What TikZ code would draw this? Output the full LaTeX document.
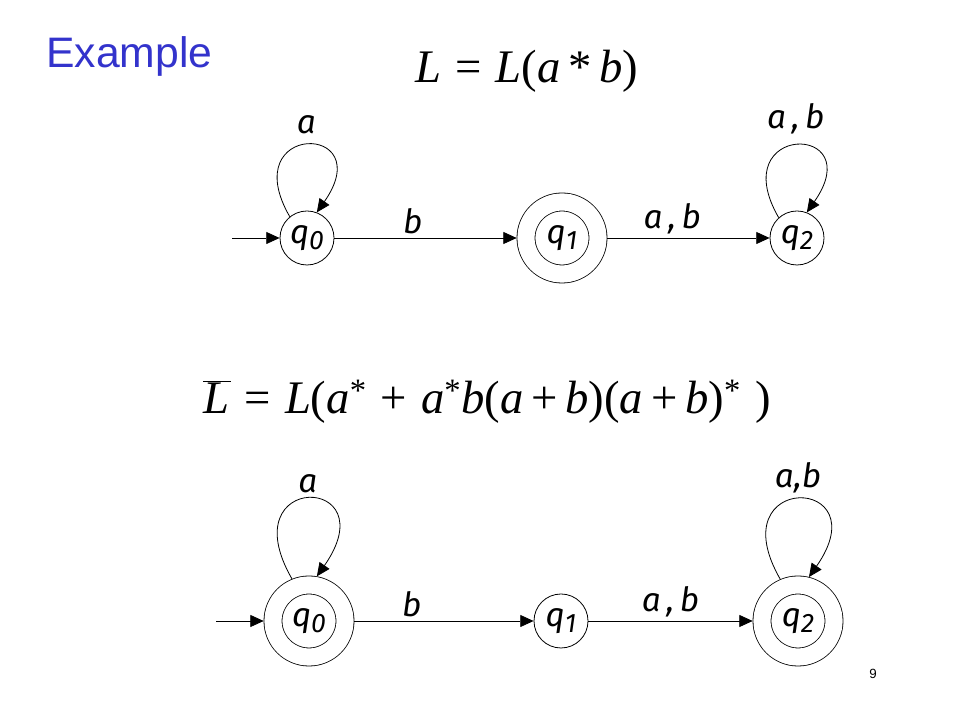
\documentclass[tikz,border=0pt]{standalone}
\usepackage{fontspec}
\setmainfont{Liberation Serif}
\newfontfamily\slidefont{Liberation Sans}
\newfontfamily\handfont{Fira Sans}
\usetikzlibrary{arrows.meta}
\tikzset{>={Triangle[width=9pt,length=10pt]}}
\definecolor{titleblue}{RGB}{51,51,204}
\newcommand{\qsub}[1]{q\raisebox{-0.35ex}{\fontsize{20}{20}\selectfont #1}}
\newcommand{\opgap}{\hspace{0.3em}}

\begin{document}
\begin{tikzpicture}[x=0.75pt,y=0.75pt,line width=0.6pt]
    \tikzset{state/.style={circle,draw,minimum size=40.5pt,inner sep=0pt,font=\handfont\itshape\fontsize{25}{28}\selectfont}}
    \tikzset{accept/.style={state,double=white,double distance=12.9pt,minimum size=54pt,outer sep=7pt}}
    \tikzset{lbl/.style={font=\handfont\itshape\fontsize{25}{28}\selectfont,inner sep=1pt}}
    \tikzset{formula/.style={font=\fontsize{35}{40}\selectfont,anchor=base}}
    \useasboundingbox (0,0) rectangle (960,720);
    % title and languages
    \draw (46,652) node[anchor=base west,text=titleblue,font=\slidefont\fontsize{32}{36}\selectfont,inner sep=0pt](title){Example};
    \draw (527,637) node[formula](lang){\textit{L}\opgap=\opgap\textit{L}(\textit{a}\,*\,\textit{b})};
    \draw (487,306) node[formula](comp){$\overline{\hbox{\itshape L\kern1pt}}$\opgap=\opgap\textit{L}(\textit{a}\textsuperscript{*}\opgap+\opgap\textit{a}\textsuperscript{*}\textit{b}(\textit{a}\,+\,\textit{b})(\textit{a}\,+\,\textit{b})\textsuperscript{*}\opgap)};
    \draw (873,41) node[anchor=base,font=\slidefont\fontsize{10}{12}\selectfont](page){9};
    % automaton for L
    \draw (307,482) node[state](a0){\qsub{0}};
    \draw (562,482) node[accept](a1){\qsub{1}};
    \draw (797,482) node[state](a2){\qsub{2}};
    \coordinate (ain) at (232,482);
    \draw[->](ain) -- (a0);
    \draw[->](a0) -- node[lbl,above=2pt,pos=0.43]{b}(a1);
    \draw[->](a1) -- node[lbl,above=2pt,pos=0.4]{a\,,\,b}(a2);
    \draw[->](a0.129) .. controls +(120:110) and +(55:110) .. node[lbl,above=7pt]{a}(a0.69);
    \draw[->](a2.132) .. controls +(120:110) and +(55:110) .. node[lbl,above=7pt]{a\,,\,b}(a2.69);
    % automaton for the complement
    \draw (309,99) node[accept](c0){\qsub{0}};
    \draw (561,99) node[state](c1){\qsub{1}};
    \draw (798,99) node[accept](c2){\qsub{2}};
    \coordinate (cin) at (216,99);
    \draw[->](cin) -- (c0);
    \draw[->](c0) -- node[lbl,above=2pt,pos=0.32]{b}(c1);
    \draw[->](c1) -- node[lbl,above=2pt]{a\,,\,b}(c2);
    \draw[->](c0.112) .. controls +(120:125) and +(55:125) .. node[lbl,above=3pt]{a}(c0.80);
    \draw[->](c2.113) .. controls +(120:125) and +(55:125) .. node[lbl,above=3pt]{a,b}(c2.76);
\end{tikzpicture}
\end{document}
